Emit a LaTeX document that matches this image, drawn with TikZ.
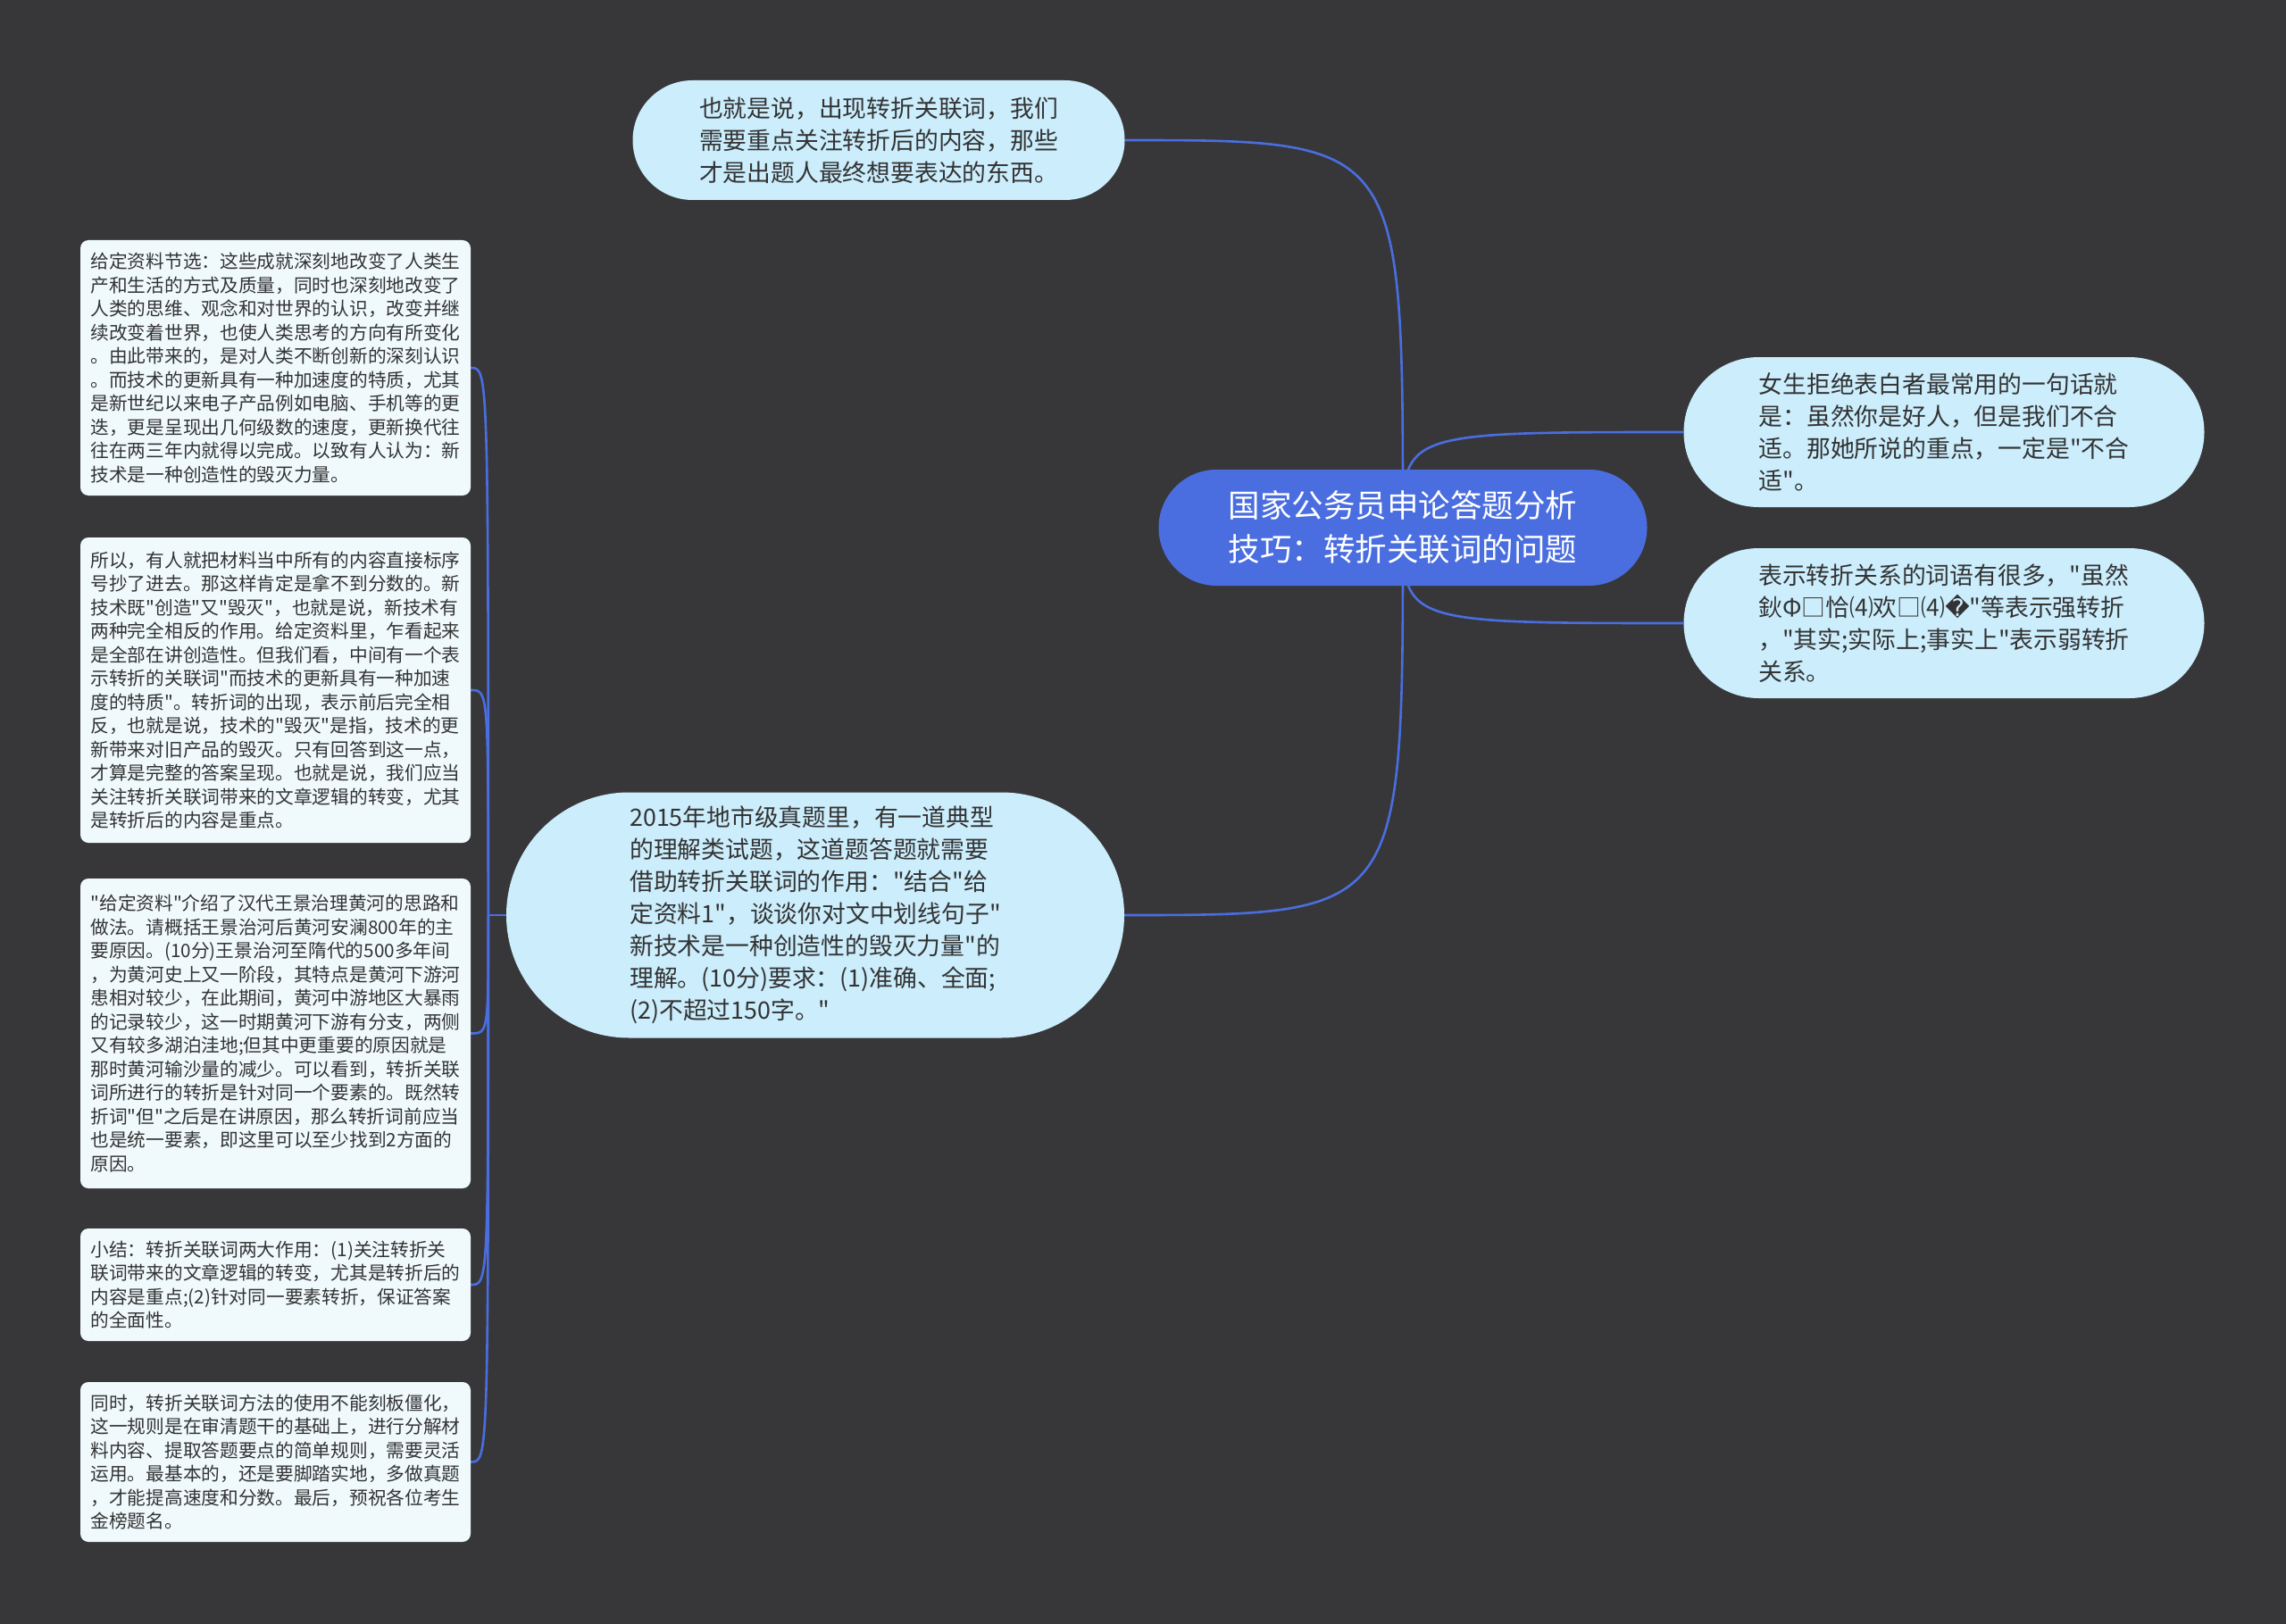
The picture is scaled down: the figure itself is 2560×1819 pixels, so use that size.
\documentclass[tikz,border=0pt]{standalone}
\usepackage{fontspec}
\usetikzlibrary{shapes.misc,calc}
\newfontfamily\cjk{Noto Sans CJK SC}
\newfontfamily\dvs{DejaVu Sans}
\definecolor{bgc}{HTML}{37373A}
\definecolor{rootc}{HTML}{4A6EE0}
\definecolor{linec}{HTML}{4A6EE0}
\definecolor{lightc}{HTML}{CBEDFC}
\definecolor{boxc}{HTML}{F0FAFD}
\definecolor{txtc}{HTML}{333333}
\pgfdeclarelayer{bglayer}
\pgfdeclarelayer{edges}
\pgfsetlayers{bglayer,edges,main}
\tikzset{
  rootnode/.style={rounded rectangle, fill=rootc, text=white, inner sep=0pt,
    font=\cjk\fontsize{35.5}{49}\selectfont, align=left},
  pillnode/.style={rounded rectangle, fill=lightc, text=txtc, inner sep=0pt,
    font=\cjk\fontsize{26.8}{36}\selectfont, align=left},
  boxnode/.style={rectangle, rounded corners=9pt, fill=boxc, text=txtc, inner sep=0pt,
    minimum width=437pt, font=\cjk\fontsize{20.7}{26.5}\selectfont, align=left},
  conn/.style={draw=linec, line width=2.6pt}
}
\begin{document}
\begin{tikzpicture}[x=1pt,y=-1pt]
\begin{pgfonlayer}{bglayer}
\fill[bgc] (0,0) rectangle (2560,1819);
\end{pgfonlayer}
\useasboundingbox (0,0) rectangle (2560,1819);

\node[rootnode, minimum width=547pt, minimum height=130pt] (root) at (1571,591)
  {国家公务员申论答题分析\\技巧：转折关联词的问题};

\node[pillnode, minimum width=551pt, minimum height=134pt] (top) at (984,157)
  {也就是说，出现转折关联词，我们\\需要重点关注转折后的内容，那些\\才是出题人最终想要表达的东西。};

\node[pillnode, minimum width=583pt, minimum height=168pt] (r1) at (2177,484)
  {女生拒绝表白者最常用的一句话就\\是：虽然你是好人，但是我们不合\\适。那她所说的重点，一定是"不合\\适"。};

\node[pillnode, minimum width=583pt, minimum height=168pt] (r2) at (2177,698)
  {表示转折关系的词语有很多，"虽然\\鈥Φ□恰⑷欢□⑷{\dvs �}"等表示强转折\\，"其实;实际上;事实上"表示弱转折\\关系。};

\node[pillnode, minimum width=692pt, minimum height=275pt] (mid) at (913,1025)
  {2015年地市级真题里，有一道典型\\的理解类试题，这道题答题就需要\\借助转折关联词的作用："结合"给\\定资料1"，谈谈你对文中划线句子"\\新技术是一种创造性的毁灭力量"的\\理解。(10分)要求：(1)准确、全面;\\(2)不超过150字。"};

\node[boxnode, minimum height=286pt] (b1) at (308.5,412)
  {给定资料节选：这些成就深刻地改变了人类生\\产和生活的方式及质量，同时也深刻地改变了\\人类的思维、观念和对世界的认识，改变并继\\续改变着世界，也使人类思考的方向有所变化\\。由此带来的，是对人类不断创新的深刻认识\\。而技术的更新具有一种加速度的特质，尤其\\是新世纪以来电子产品例如电脑、手机等的更\\迭，更是呈现出几何级数的速度，更新换代往\\往在两三年内就得以完成。以致有人认为：新\\技术是一种创造性的毁灭力量。};

\node[boxnode, minimum height=342pt] (b2) at (308.5,773)
  {所以，有人就把材料当中所有的内容直接标序\\号抄了进去。那这样肯定是拿不到分数的。新\\技术既"创造"又"毁灭"，也就是说，新技术有\\两种完全相反的作用。给定资料里，乍看起来\\是全部在讲创造性。但我们看，中间有一个表\\示转折的关联词"而技术的更新具有一种加速\\度的特质"。转折词的出现，表示前后完全相\\反，也就是说，技术的"毁灭"是指，技术的更\\新带来对旧产品的毁灭。只有回答到这一点，\\才算是完整的答案呈现。也就是说，我们应当\\关注转折关联词带来的文章逻辑的转变，尤其\\是转折后的内容是重点。};

\node[boxnode, minimum height=347pt] (b3) at (308.5,1157.5)
  {"给定资料"介绍了汉代王景治理黄河的思路和\\做法。请概括王景治河后黄河安澜800年的主\\要原因。(10分)王景治河至隋代的500多年间\\，为黄河史上又一阶段，其特点是黄河下游河\\患相对较少，在此期间，黄河中游地区大暴雨\\的记录较少，这一时期黄河下游有分支，两侧\\又有较多湖泊洼地;但其中更重要的原因就是\\那时黄河输沙量的减少。可以看到，转折关联\\词所进行的转折是针对同一个要素的。既然转\\折词"但"之后是在讲原因，那么转折词前应当\\也是统一要素，即这里可以至少找到2方面的\\原因。};

\node[boxnode, minimum height=126pt] (b4) at (308.5,1439)
  {小结：转折关联词两大作用：(1)关注转折关\\联词带来的文章逻辑的转变，尤其是转折后的\\内容是重点;(2)针对同一要素转折，保证答案\\的全面性。};

\node[boxnode, minimum height=179pt] (b5) at (308.5,1637.5)
  {同时，转折关联词方法的使用不能刻板僵化，\\这一规则是在审清题干的基础上，进行分解材\\料内容、提取答题要点的简单规则，需要灵活\\运用。最基本的，还是要脚踏实地，多做真题\\，才能提高速度和分数。最后，预祝各位考生\\金榜题名。};

\coordinate (trunk) at ([xshift=-20pt]mid.west);

\begin{pgfonlayer}{edges}
\draw[conn] (root.center) .. controls (root.center |- top.east) .. (top.east);
\draw[conn] (root.center) .. controls (root.center |- mid.east) .. (mid.east);
\draw[conn] (root.center) .. controls (root.center |- r1.west) .. (r1.west);
\draw[conn] (root.center) .. controls (root.center |- r2.west) .. (r2.west);
\draw[conn] (mid.west) -- (trunk);
\draw[conn] (trunk) .. controls (trunk |- b1.east) .. (b1.east);
\draw[conn] (trunk) .. controls (trunk |- b2.east) .. (b2.east);
\draw[conn] (trunk) .. controls (trunk |- b3.east) .. (b3.east);
\draw[conn] (trunk) .. controls (trunk |- b4.east) .. (b4.east);
\draw[conn] (trunk) .. controls (trunk |- b5.east) .. (b5.east);
\end{pgfonlayer}
\end{tikzpicture}
\end{document}
